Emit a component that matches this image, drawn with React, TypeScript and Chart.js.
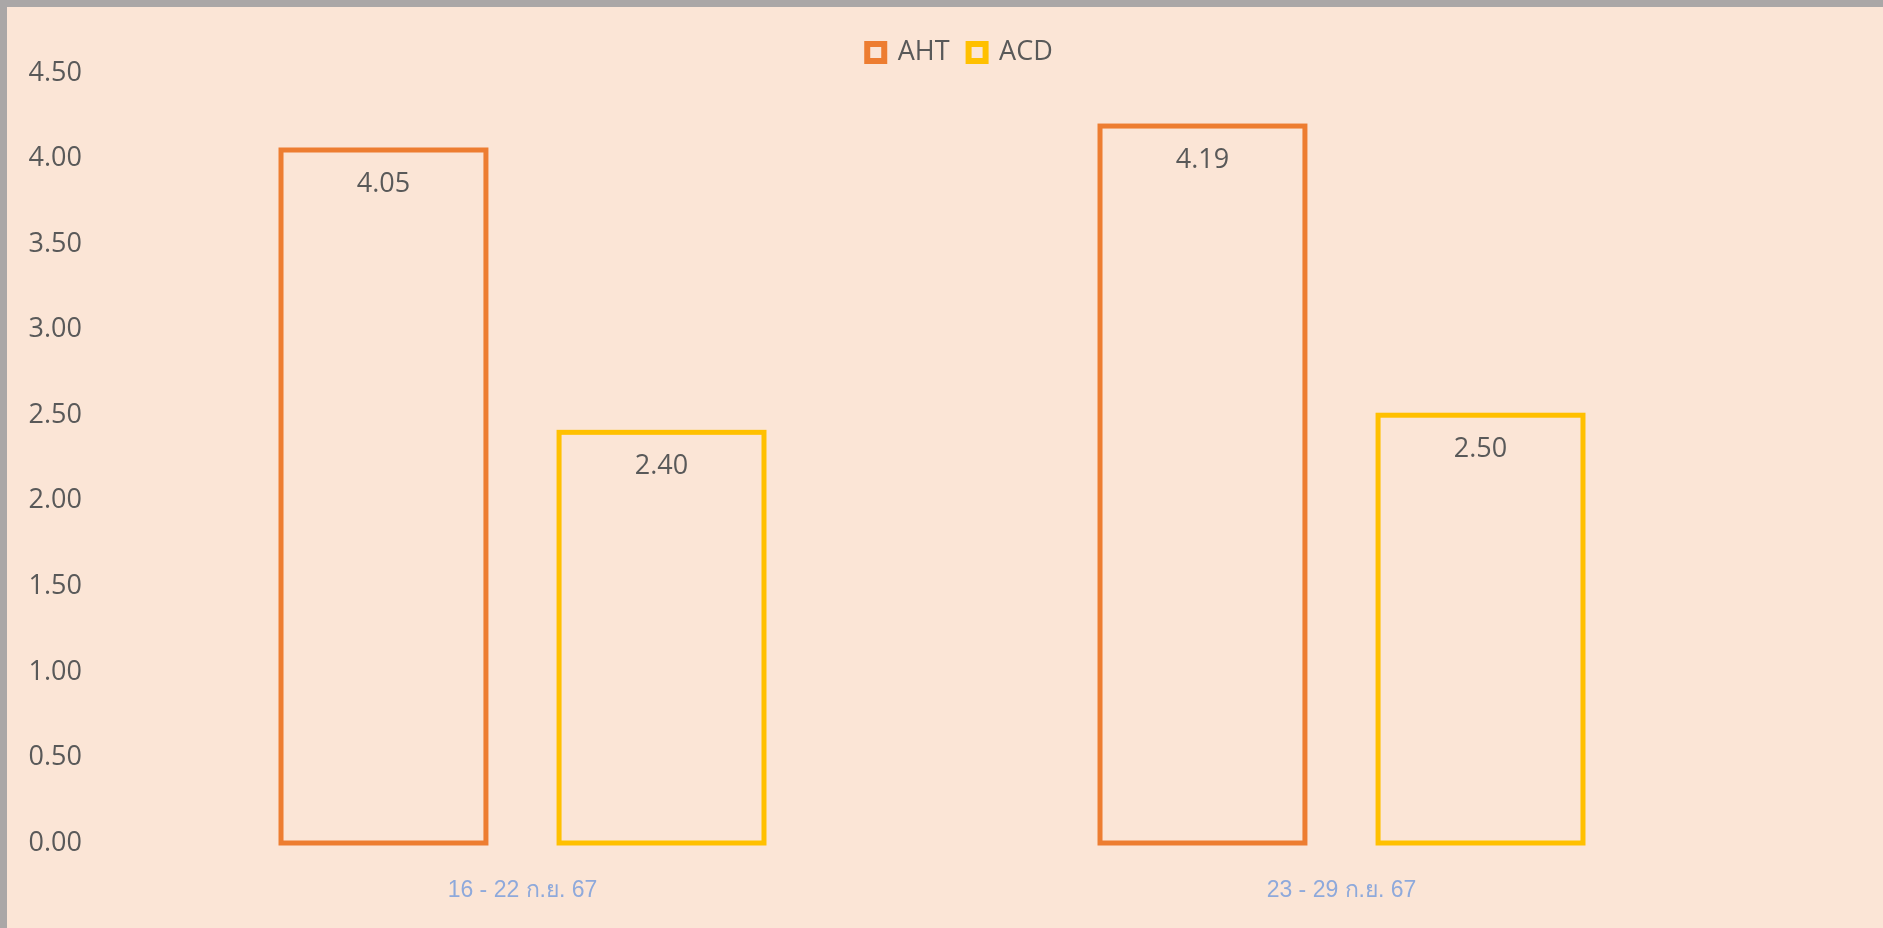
import React, { useEffect, useRef } from "react";
import { Chart, registerables } from "chart.js";

Chart.register(...registerables);

const categories = ["16 - 22 ก.ย. 67", "23 - 29 ก.ย. 67"];
const ahtValues = [4.05, 4.19];
const acdValues = [2.4, 2.5];
const seriesNames = ["AHT", "ACD"];
const seriesColors = ["#ED7D31", "#FFC000"];
const yMin = 0;
const yMax = 4.5;
const yStep = 0.5;

const BG = "#FBE5D6";
const TEXT = "#595959";

const outlinePlugin = {
  id: "outlineBars",
  beforeDraw(chart: any) {
    if (chart.legend) {
      chart.legend.left = 30;
      chart.legend.top = 13;
    }
  },
  afterDatasetsDraw(chart: any) {
    const ctx = chart.ctx;
    chart.data.datasets.forEach((ds: any, i: number) => {
      const meta = chart.getDatasetMeta(i);
      if (meta.hidden) return;
      meta.data.forEach((bar: any, j: number) => {
        const { x, y, base, width } = bar.getProps(["x", "y", "base", "width"], true);
        ctx.save();
        ctx.lineWidth = 5;
        ctx.strokeStyle = ds.borderColor;
        ctx.strokeRect(x - width / 2, y, width, base - y);
        ctx.fillStyle = TEXT;
        ctx.font = '27px "Open Sans"';
        ctx.textAlign = "center";
        ctx.textBaseline = "middle";
        ctx.fillText(Number(ds.data[j]).toFixed(2), x, y + 34);
        ctx.restore();
      });
    });
  },
};

export default function App() {
  const ref = useRef<HTMLCanvasElement | null>(null);

  useEffect(() => {
    if (!ref.current) return;
    Chart.defaults.font.family = '"Open Sans"';
    const chart = new Chart(ref.current, {
      type: "bar",
      data: {
        labels: categories,
        datasets: [
          {
            label: seriesNames[0],
            data: ahtValues,
            backgroundColor: "rgba(0,0,0,0)",
            borderColor: seriesColors[0],
            borderWidth: 0,
            categoryPercentage: 0.679,
            barPercentage: 0.737,
          },
          {
            label: seriesNames[1],
            data: acdValues,
            backgroundColor: "rgba(0,0,0,0)",
            borderColor: seriesColors[1],
            borderWidth: 0,
            categoryPercentage: 0.679,
            barPercentage: 0.737,
          },
        ],
      },
      options: {
        animation: false,
        responsive: true,
        maintainAspectRatio: false,
        events: [],
        layout: { padding: { top: 10, left: 0, right: 0, bottom: 0 } },
        plugins: {
          tooltip: { enabled: false },
          legend: {
            display: true,
            position: "top",
            labels: {
              color: TEXT,
              font: { size: 27, family: '"Open Sans"' },
              boxWidth: 17,
              boxHeight: 17,
              padding: 19,
              generateLabels: (c: any) => {
                const items = Chart.defaults.plugins.legend.labels.generateLabels(c);
                return items.map((it: any, k: number) => ({
                  ...it,
                  fillStyle: "rgba(0,0,0,0)",
                  strokeStyle: seriesColors[k],
                  lineWidth: 6,
                }));
              },
            },
          },
        },
        scales: {
          x: {
            grid: { display: false, drawTicks: false },
            border: { display: false },
            ticks: {
              color: "#8EA9DB",
              font: { size: 23, family: '"Liberation Sans", Arial, sans-serif' },
              padding: 34,
            },
            afterFit: (s: any) => {
              s.height = 85;
            },
          },
          y: {
            min: yMin,
            max: yMax,
            grid: { display: false, drawTicks: false },
            border: { display: false },
            ticks: {
              stepSize: yStep,
              color: TEXT,
              font: { size: 27, family: '"Open Sans"' },
              padding: 31,
              callback: (v: any) => Number(v).toFixed(2),
            },
            afterFit: (s: any) => {
              s.width = 106;
            },
          },
          yRight: {
            type: "linear",
            position: "right",
            display: true,
            grid: { display: false, drawTicks: false },
            border: { display: false },
            ticks: { display: false },
            afterFit: (s: any) => {
              s.width = 132;
            },
          },
        },
      },
      plugins: [outlinePlugin],
    } as any);
    return () => chart.destroy();
  }, []);

  return (
    <div
      style={{
        width: 1883,
        height: 928,
        background: "#AAA7A7",
        paddingTop: 7,
        paddingLeft: 7,
        boxSizing: "border-box",
      }}
    >
      <style>{`body{margin:0;}`}</style>
      <div style={{ position: "relative", width: 1876, height: 921, background: BG }}>
        <canvas ref={ref} />
      </div>
    </div>
  );
}
